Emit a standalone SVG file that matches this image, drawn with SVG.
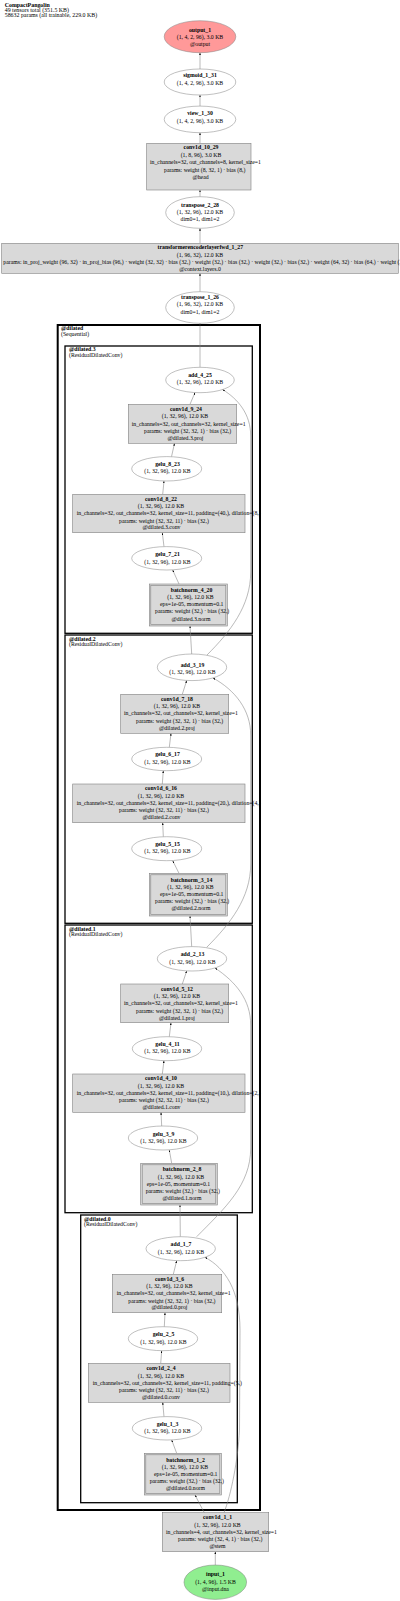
<svg xmlns="http://www.w3.org/2000/svg" width="400" height="1601" viewBox="0 0 400 1601">
<style>
text{font-family:"Liberation Serif","Times New Roman",serif;font-size:5.75px;fill:#000}
.m{text-anchor:middle}
.s{text-anchor:start}
.b{font-weight:bold}
.el{fill:#fff;stroke:#808080;stroke-width:0.5}
.rc{fill:#d9d9d9;stroke:#808080;stroke-width:0.6}
.cl0{fill:none;stroke:#000;stroke-width:2}
.cl{fill:none;stroke:#000;stroke-width:1.3}
.ed{fill:none;stroke:#808080;stroke-width:0.55;marker-end:url(#ah)}
.t{font-size:5.9px}
</style>
<defs>
<marker id="ah" viewBox="0 0 4 3" refX="4" refY="1.5" markerWidth="2.4" markerHeight="1.8" markerUnits="userSpaceOnUse" orient="auto">
<path d="M0,0 L4,1.5 L0,3 z" fill="#000"/>
</marker>
</defs>
<rect width="400" height="1601" fill="#fff"/>
<g id="title">
<text class="s b t" x="4.7" y="6.7">CompactPangolin</text>
<text class="s t" x="4.7" y="11.7">49 tensors total (351.5 KB)</text>
<text class="s t" x="4.7" y="17.2">58632 params (all trainable, 229.0 KB)</text>
</g>
<g id="clusters">
<g id="cluster_dilated"><rect class="cl0" x="57.7" y="325" width="202.3" height="1185"/><text class="s b" x="61" y="330.1">@dilated</text><text class="s" x="61" y="335.8">(Sequential)</text></g>
<g id="cluster_dilated3"><rect class="cl" x="65" y="346" width="187.3" height="287.3"/><text class="s b" x="69" y="351.1">@dilated.3</text><text class="s" x="69" y="356.8">(ResidualDilatedConv)</text></g>
<g id="cluster_dilated2"><rect class="cl" x="65" y="635" width="187.3" height="288.3"/><text class="s b" x="69" y="640.8">@dilated.2</text><text class="s" x="69" y="646.1">(ResidualDilatedConv)</text></g>
<g id="cluster_dilated1"><rect class="cl" x="65" y="925" width="187.3" height="287.7"/><text class="s b" x="69" y="930.8">@dilated.1</text><text class="s" x="69" y="936.1">(ResidualDilatedConv)</text></g>
<g id="cluster_dilated0"><rect class="cl" x="80.7" y="1215" width="156.6" height="287.7"/><text class="s b" x="84" y="1220.8">@dilated.0</text><text class="s" x="84" y="1225.8">(ResidualDilatedConv)</text></g>
</g>
<g id="edges">
<line class="ed" x1="200" y1="106" x2="200" y2="95"/>
<line class="ed" x1="200" y1="69" x2="200" y2="52.7"/>
<line class="ed" x1="200" y1="143.3" x2="200" y2="132.7"/>
<line class="ed" x1="200" y1="196.7" x2="200" y2="190"/>
<line class="ed" x1="200" y1="243.3" x2="200" y2="228.3"/>
<line class="ed" x1="200" y1="291.7" x2="200" y2="273.3"/>
<line class="ed" x1="200" y1="367.3" x2="200" y2="323.3"/>
<line class="ed" x1="190" y1="404.3" x2="195" y2="392.5"/>
<line class="ed" x1="171.5" y1="456.7" x2="174.5" y2="443.3"/>
<line class="ed" x1="162.7" y1="494.3" x2="164" y2="481"/>
<line class="ed" x1="164" y1="546.7" x2="162.3" y2="532.7"/>
<line class="ed" x1="179" y1="584" x2="172.7" y2="570"/>
<line class="ed" x1="191.7" y1="654" x2="190" y2="626"/>
<path class="ed" d="M207,655 C230,632 250.7,606 250.7,572 L250.7,436 C250.7,414 238,399 222.5,389.5"/>
<line class="ed" x1="182.3" y1="694.3" x2="186.7" y2="680.5"/>
<line class="ed" x1="169.3" y1="747.3" x2="171" y2="733.3"/>
<line class="ed" x1="162.3" y1="784" x2="163.3" y2="770.7"/>
<line class="ed" x1="163.3" y1="836.7" x2="162.7" y2="822.7"/>
<line class="ed" x1="179" y1="873.3" x2="172.7" y2="860.7"/>
<line class="ed" x1="191.7" y1="946.7" x2="190" y2="916"/>
<path class="ed" d="M206.7,947.3 C230,924 250.7,898 250.7,864 L250.7,735 C250.7,710 235,690 213,678"/>
<line class="ed" x1="182.3" y1="984" x2="186.7" y2="971"/>
<line class="ed" x1="169.3" y1="1036.7" x2="171" y2="1022.7"/>
<line class="ed" x1="162.3" y1="1074" x2="164" y2="1060.7"/>
<line class="ed" x1="161.7" y1="1126" x2="161" y2="1112.3"/>
<line class="ed" x1="171.7" y1="1163.3" x2="169.3" y2="1150"/>
<line class="ed" x1="180.3" y1="1236.7" x2="180" y2="1205"/>
<path class="ed" d="M196.7,1236.7 C225,1208 250.7,1185 250.7,1148 L250.7,1025 C250.7,1000 236,982 215,968"/>
<line class="ed" x1="173.3" y1="1274.3" x2="176.7" y2="1260.7"/>
<line class="ed" x1="164.3" y1="1326.7" x2="165" y2="1312.7"/>
<line class="ed" x1="160.7" y1="1363.3" x2="161.7" y2="1350.7"/>
<line class="ed" x1="164" y1="1416.7" x2="162.7" y2="1402.3"/>
<line class="ed" x1="176.7" y1="1453.3" x2="171.7" y2="1440"/>
<line class="ed" x1="204.3" y1="1512.7" x2="195" y2="1495"/>
<path class="ed" d="M224,1512.7 C231,1495 238,1460 239.5,1430 L240,1330 C240,1290 225,1268 205,1257.3"/>
<line class="ed" x1="215.3" y1="1565" x2="215.3" y2="1551.7"/>
</g>
<g id="output_1"><ellipse cx="200" cy="36.7" rx="35.8" ry="16" fill="#ff9999" stroke="#808080" stroke-width="0.5"/><text class="m b" x="200" y="31.5">output_1</text><text class="m" x="200" y="38.5">(1, 4, 2, 96), 3.0 KB</text><text class="m" x="200" y="45.5">@output</text></g>
<g id="sigmoid_1_31"><ellipse class="el" cx="200" cy="82" rx="35.8" ry="13"/><text class="m b" x="200" y="77.1">sigmoid_1_31</text><text class="m" x="200" y="84.8">(1, 4, 2, 96), 3.0 KB</text></g>
<g id="view_1_30"><ellipse class="el" cx="200" cy="119.4" rx="35.8" ry="13.3"/><text class="m b" x="200" y="115.1">view_1_30</text><text class="m" x="200" y="122.5">(1, 4, 2, 96), 3.0 KB</text></g>
<g id="conv1d_10_29"><rect class="rc" x="146.7" y="143.3" width="104.3" height="46.7"/><text class="m b" x="201" y="149.1">conv1d_10_29</text><text class="m" x="201" y="156.8">(1, 8, 96), 3.0 KB</text><text class="s" x="150" y="164.1">in_channels=32, out_channels=8, kernel_size=1</text><text class="s" x="164" y="171.5">params: weight (8, 32, 1) · bias (8,)</text><text class="m" x="200.5" y="178.5">@head</text></g>
<g id="transpose_2_28"><ellipse class="el" cx="200" cy="212.5" rx="34.3" ry="15.8"/><text class="m b" x="200" y="206.8">transpose_2_28</text><text class="m" x="200" y="213.5">(1, 32, 96), 12.0 KB</text><text class="m" x="200" y="220.5">dim0=1, dim1=2</text></g>
<g id="transformerencoderlayerfwd_1_27"><rect class="rc" x="1.7" y="243.3" width="396.6" height="30"/><text class="m b" x="200.3" y="249.1">transformerencoderlayerfwd_1_27</text><text class="m" x="200" y="256.8">(1, 96, 32), 12.0 KB</text><text class="s" x="3.3" y="263.7">params: in_proj_weight (96, 32) · in_proj_bias (96,) · weight (32, 32) · bias (32,) · weight (32,) · bias (32,) · weight (32,) · bias (32,) · weight (64, 32) · bias (64,) · weight (32, 64) · bias (32,)</text><text class="m" x="200" y="270.8">@context.layers.0</text></g>
<g id="transpose_1_26"><ellipse class="el" cx="200" cy="307.5" rx="34.3" ry="15.8"/><text class="m b" x="200" y="299.1">transpose_1_26</text><text class="m" x="200" y="306.1">(1, 96, 32), 12.0 KB</text><text class="m" x="200" y="313.5">dim0=1, dim1=2</text></g>
<g id="add_4_25"><ellipse class="el" cx="200" cy="380" rx="34.3" ry="12.7"/><text class="m b" x="200" y="376.8">add_4_25</text><text class="m" x="200" y="384.1">(1, 32, 96), 12.0 KB</text></g>
<g id="conv1d_9_24"><rect class="rc" x="128.3" y="404.3" width="108.4" height="39"/><text class="m b" x="186" y="410.8">conv1d_9_24</text><text class="m" x="185" y="418.1">(1, 32, 96), 12.0 KB</text><text class="s" x="131.7" y="425.5">in_channels=32, out_channels=32, kernel_size=1</text><text class="s" x="144" y="432.8">params: weight (32, 32, 1) · bias (32,)</text><text class="m" x="185.5" y="439.8">@dilated.3.proj</text></g>
<g id="gelu_8_23"><ellipse class="el" cx="166.7" cy="468.8" rx="35" ry="12.2"/><text class="m b" x="167.5" y="465.8">gelu_8_23</text><text class="m" x="167.5" y="473.1">(1, 32, 96), 12.0 KB</text></g>
<g id="conv1d_8_22"><rect class="rc" x="72.7" y="494.3" width="172.3" height="38.4"/><text class="m b" x="161" y="500.5">conv1d_8_22</text><text class="m" x="161" y="507.8">(1, 32, 96), 12.0 KB</text><text class="s" x="76.7" y="515.1">in_channels=32, out_channels=32, kernel_size=11, padding=(40,), dilation=(8,)</text><text class="s" x="119" y="522.5">params: weight (32, 32, 11) · bias (32,)</text><text class="m" x="161.5" y="529.1">@dilated.3.conv</text></g>
<g id="gelu_7_21"><ellipse class="el" cx="166.7" cy="558.3" rx="35" ry="11.7"/><text class="m b" x="167.5" y="556.1">gelu_7_21</text><text class="m" x="167.5" y="563.5">(1, 32, 96), 12.0 KB</text></g>
<g id="batchnorm_4_20"><rect class="rc" x="149.3" y="584" width="78" height="42"/><rect class="rc" x="150.8" y="585.5" width="75" height="39"/><text class="m b" x="191.5" y="591.8">batchnorm_4_20</text><text class="m" x="190.5" y="599.1">(1, 32, 96), 12.0 KB</text><text class="s" x="160" y="606.1">eps=1e-05, momentum=0.1</text><text class="s" x="155" y="613.1">params: weight (32,) · bias (32,)</text><text class="m" x="191" y="620.5">@dilated.3.norm</text></g>
<g id="add_3_19"><ellipse class="el" cx="192" cy="667.3" rx="34.7" ry="13.3"/><text class="m b" x="192.5" y="666.5">add_3_19</text><text class="m" x="192.5" y="673.8">(1, 32, 96), 12.0 KB</text></g>
<g id="conv1d_7_18"><rect class="rc" x="120.7" y="694.3" width="108" height="39"/><text class="m b" x="177" y="700.8">conv1d_7_18</text><text class="m" x="177" y="708.1">(1, 32, 96), 12.0 KB</text><text class="s" x="124" y="715.1">in_channels=32, out_channels=32, kernel_size=1</text><text class="s" x="136" y="722.5">params: weight (32, 32, 1) · bias (32,)</text><text class="m" x="177" y="729.8">@dilated.2.proj</text></g>
<g id="gelu_6_17"><ellipse class="el" cx="166.7" cy="759" rx="35" ry="11.7"/><text class="m b" x="167.5" y="756.1">gelu_6_17</text><text class="m" x="167.5" y="763.5">(1, 32, 96), 12.0 KB</text></g>
<g id="conv1d_6_16"><rect class="rc" x="72.7" y="784" width="172.3" height="38.7"/><text class="m b" x="161" y="790.1">conv1d_6_16</text><text class="m" x="161" y="797.5">(1, 32, 96), 12.0 KB</text><text class="s" x="76.7" y="804.8">in_channels=32, out_channels=32, kernel_size=11, padding=(20,), dilation=(4,)</text><text class="s" x="119" y="811.8">params: weight (32, 32, 11) · bias (32,)</text><text class="m" x="161.5" y="819.1">@dilated.2.conv</text></g>
<g id="gelu_5_15"><ellipse class="el" cx="166.7" cy="848.7" rx="35" ry="12"/><text class="m b" x="167.5" y="845.8">gelu_5_15</text><text class="m" x="167.5" y="853.1">(1, 32, 96), 12.0 KB</text></g>
<g id="batchnorm_3_14"><rect class="rc" x="149.3" y="873.3" width="78" height="42.7"/><rect class="rc" x="150.8" y="874.8" width="75" height="39.7"/><text class="m b" x="191.5" y="881.5">batchnorm_3_14</text><text class="m" x="190.5" y="888.8">(1, 32, 96), 12.0 KB</text><text class="s" x="160" y="895.8">eps=1e-05, momentum=0.1</text><text class="s" x="155" y="903.1">params: weight (32,) · bias (32,)</text><text class="m" x="191" y="910.1">@dilated.2.norm</text></g>
<g id="add_2_13"><ellipse class="el" cx="192" cy="958.8" rx="34.7" ry="12.2"/><text class="m b" x="192.5" y="956.1">add_2_13</text><text class="m" x="192.5" y="963.5">(1, 32, 96), 12.0 KB</text></g>
<g id="conv1d_5_12"><rect class="rc" x="120.7" y="984" width="108" height="38.7"/><text class="m b" x="177" y="990.8">conv1d_5_12</text><text class="m" x="177" y="997.8">(1, 32, 96), 12.0 KB</text><text class="s" x="124" y="1005.1">in_channels=32, out_channels=32, kernel_size=1</text><text class="s" x="136" y="1012.5">params: weight (32, 32, 1) · bias (32,)</text><text class="m" x="177" y="1019.5">@dilated.1.proj</text></g>
<g id="gelu_4_11"><ellipse class="el" cx="167" cy="1048.7" rx="34.7" ry="12"/><text class="m b" x="167.5" y="1045.8">gelu_4_11</text><text class="m" x="167.5" y="1053.1">(1, 32, 96), 12.0 KB</text></g>
<g id="conv1d_4_10"><rect class="rc" x="72.7" y="1074" width="172.3" height="38.3"/><text class="m b" x="161" y="1080.1">conv1d_4_10</text><text class="m" x="161" y="1087.5">(1, 32, 96), 12.0 KB</text><text class="s" x="76.7" y="1094.8">in_channels=32, out_channels=32, kernel_size=11, padding=(10,), dilation=(2,)</text><text class="s" x="119" y="1101.8">params: weight (32, 32, 11) · bias (32,)</text><text class="m" x="161.5" y="1108.8">@dilated.1.conv</text></g>
<g id="gelu_3_9"><ellipse class="el" cx="163" cy="1138" rx="34.7" ry="12"/><text class="m b" x="163.5" y="1135.5">gelu_3_9</text><text class="m" x="163.5" y="1142.8">(1, 32, 96), 12.0 KB</text></g>
<g id="batchnorm_2_8"><rect class="rc" x="140.7" y="1163.3" width="76.6" height="41.7"/><rect class="rc" x="142.2" y="1164.8" width="73.6" height="38.7"/><text class="m b" x="182" y="1171.1">batchnorm_2_8</text><text class="m" x="181" y="1178.5">(1, 32, 96), 12.0 KB</text><text class="s" x="146.7" y="1185.8">eps=1e-05, momentum=0.1</text><text class="s" x="145.7" y="1192.8">params: weight (32,) · bias (32,)</text><text class="m" x="182" y="1199.8">@dilated.1.norm</text></g>
<g id="add_1_7"><ellipse class="el" cx="180.7" cy="1248.7" rx="34.7" ry="12"/><text class="m b" x="181" y="1245.8">add_1_7</text><text class="m" x="181" y="1253.5">(1, 32, 96), 12.0 KB</text></g>
<g id="conv1d_3_6"><rect class="rc" x="112.3" y="1274.3" width="109.4" height="38.4"/><text class="m b" x="169.5" y="1280.5">conv1d_3_6</text><text class="m" x="169.5" y="1287.8">(1, 32, 96), 12.0 KB</text><text class="s" x="116.7" y="1295.1">in_channels=32, out_channels=32, kernel_size=1</text><text class="s" x="128.3" y="1302.5">params: weight (32, 32, 1) · bias (32,)</text><text class="m" x="169.5" y="1309.1">@dilated.0.proj</text></g>
<g id="gelu_2_5"><ellipse class="el" cx="163" cy="1338.7" rx="34.7" ry="12"/><text class="m b" x="163.5" y="1336.1">gelu_2_5</text><text class="m" x="163.5" y="1343.5">(1, 32, 96), 12.0 KB</text></g>
<g id="conv1d_2_4"><rect class="rc" x="88.3" y="1363.3" width="141.7" height="39"/><text class="m b" x="161" y="1370.1">conv1d_2_4</text><text class="m" x="161" y="1377.5">(1, 32, 96), 12.0 KB</text><text class="s" x="92.7" y="1384.5">in_channels=32, out_channels=32, kernel_size=11, padding=(5,)</text><text class="s" x="119" y="1391.8">params: weight (32, 32, 11) · bias (32,)</text><text class="m" x="161" y="1398.8">@dilated.0.conv</text></g>
<g id="gelu_1_3"><ellipse class="el" cx="167" cy="1428.3" rx="34.7" ry="11.7"/><text class="m b" x="167.5" y="1425.8">gelu_1_3</text><text class="m" x="167.5" y="1432.5">(1, 32, 96), 12.0 KB</text></g>
<g id="batchnorm_1_2"><rect class="rc" x="144.3" y="1453.3" width="77" height="41.7"/><rect class="rc" x="145.8" y="1454.8" width="74" height="38.7"/><text class="m b" x="185.5" y="1461.5">batchnorm_1_2</text><text class="m" x="185" y="1468.5">(1, 32, 96), 12.0 KB</text><text class="s" x="154" y="1475.5">eps=1e-05, momentum=0.1</text><text class="s" x="149.7" y="1482.8">params: weight (32,) · bias (32,)</text><text class="m" x="185.5" y="1489.8">@dilated.0.norm</text></g>
<g id="conv1d_1_1"><rect class="rc" x="162.3" y="1512.7" width="106.4" height="39"/><text class="m b" x="217.5" y="1519.1">conv1d_1_1</text><text class="m" x="217.5" y="1526.5">(1, 32, 96), 12.0 KB</text><text class="s" x="166" y="1533.5">in_channels=4, out_channels=32, kernel_size=1</text><text class="s" x="178" y="1540.8">params: weight (32, 4, 1) · bias (32,)</text><text class="m" x="217.5" y="1547.8">@stem</text></g>
<g id="input_1"><ellipse cx="215.3" cy="1582.2" rx="31.3" ry="17.2" fill="#90ee90" stroke="#808080" stroke-width="0.5"/><text class="m b" x="215.5" y="1576.1">input_1</text><text class="m" x="215.5" y="1583.5">(1, 4, 96), 1.5 KB</text><text class="m" x="215.5" y="1590.5">@input.dna</text></g>
</svg>
